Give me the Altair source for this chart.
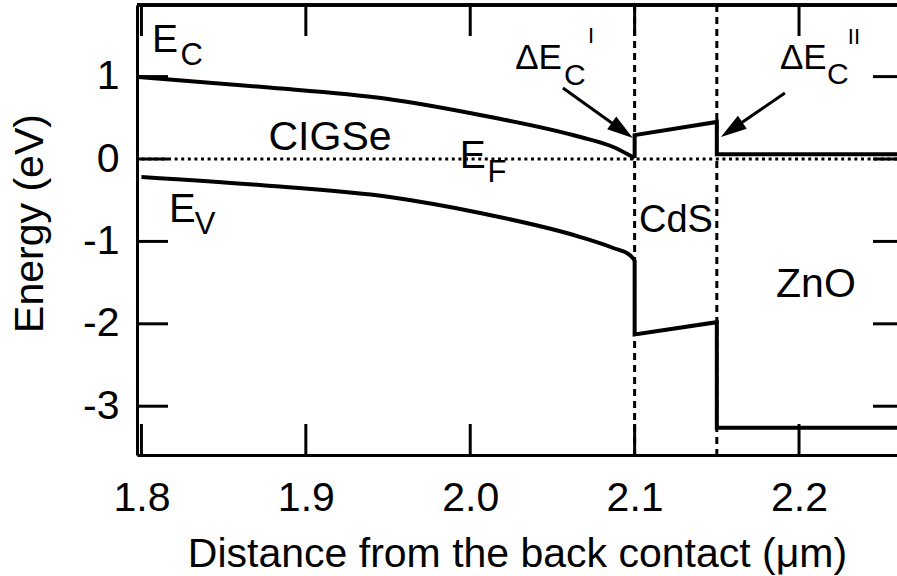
import altair as alt
import pandas as pd

FONT = "Liberation Sans"

# Band edges (eV) versus distance from the back contact (um)
ec_x = [1.798, 1.874, 1.948, 2.006, 2.067, 2.087, 2.1, 2.1, 2.15, 2.15, 2.26]
ec_y = [0.995, 0.874, 0.734, 0.534, 0.267, 0.146, 0.012, 0.29, 0.45, 0.057, 0.057]
ec_bent = 7  # first points lie in the band-bending region of CIGSe

ev_x = [1.8, 1.872, 1.951, 2.006, 2.067, 2.087, 2.097, 2.1, 2.1, 2.15, 2.15, 2.26]
ev_y = [-0.218, -0.316, -0.461, -0.655, -0.947, -1.08, -1.165, -1.226, -2.13, -1.98, -3.26, -3.26]
ev_bent = 8

fermi_level = [0.0]
interfaces = [2.1, 2.15]  # CIGSe/CdS and CdS/ZnO

x_ticks = [1.8, 1.9, 2.0, 2.1, 2.2]
y_ticks = [1, 0, -1, -2, -3]

# Symbols with sub/superscripts (left-aligned): text, x, y (baseline), font size
sym_text = ["E", "C", "E", "F", "E", "V", "C", "I", "C", "II"]
sym_x = [1.8064, 1.8237, 1.9937, 2.0105, 1.8167, 1.8325,
         2.0570, 2.0716, 2.2170, 2.2297]
sym_y = [1.2985, 1.141, -0.109, -0.279, -0.765, -0.910,
         0.898, 1.408, 0.910, 1.396]
sym_size = [39, 31, 39, 31, 40, 31, 30, 22, 30, 22]

# Band-offset symbols (right-aligned up to the subscript)
delta_text = ["\u0394E", "\u0394E"]
delta_x = [2.0558, 2.2168]
delta_y = [1.092, 1.092]
delta_size = [35, 35]

# Layer names (centred)
layer_text = ["CIGSe", "CdS", "ZnO"]
layer_x = [1.9147, 2.1251, 2.2103]
layer_y = [0.109, -0.886, -1.675]
layer_size = [41, 38, 41]

# Band-offset arrows: tail -> arrowhead centre, head rotation (deg)
arr_x = [2.0564, 2.1914]
arr_y = [0.862, 0.801]
arr_x2 = [2.0925, 2.1590]
arr_y2 = [0.347, 0.357]
arr_angle = [125.5, 235.5]

W, H = 760, 450
xs = alt.Scale(domain=[1.7973, 2.2596], nice=False, zero=False)
ys = alt.Scale(domain=[-3.592, 1.869], nice=False, zero=False)

def segment(name, xv, yv, lo, hi):
    return pd.DataFrame({"band": name, "x": xv[lo:hi], "y": yv[lo:hi],
                         "i": range(hi - lo)})

curved = pd.concat([segment("Ec", ec_x, ec_y, 0, ec_bent),
                    segment("Ev", ev_x, ev_y, 0, ev_bent)])
stepped = pd.concat([segment("Ec", ec_x, ec_y, ec_bent - 1, len(ec_x)),
                     segment("Ev", ev_x, ev_y, ev_bent - 1, len(ev_x))])
symbols = pd.DataFrame({"t": sym_text, "x": sym_x, "y": sym_y, "s": sym_size})
deltas = pd.DataFrame({"t": delta_text, "x": delta_x, "y": delta_y, "s": delta_size})
layers = pd.DataFrame({"t": layer_text, "x": layer_x, "y": layer_y, "s": layer_size})
arrows = pd.DataFrame({"x": arr_x, "y": arr_y, "x2": arr_x2, "y2": arr_y2,
                       "ang": arr_angle})
xt = pd.DataFrame({"x": x_ticks})
yt = pd.DataFrame({"y": y_ticks})

x_axis = alt.Axis(values=x_ticks, format=".1f", ticks=False, tickSize=0, grid=False,
                  domainColor="black", domainWidth=3, labelFontSize=41,
                  labelPadding=23, labelColor="black", labelFont=FONT,
                  title="Distance from the back contact (\u03bcm)",
                  titleFont=FONT, titleFontSize=41, titleFontWeight="normal",
                  titleColor="black", titleBaseline="alphabetic",
                  titleX=380, titleY=111, titleAlign="center", titleAnchor="middle")
y_axis = alt.Axis(values=y_ticks, labelExpr="'' + datum.value", ticks=False, tickSize=0,
                  grid=False, domainColor="black", domainWidth=3, labelFontSize=41,
                  labelPadding=18, labelColor="black", labelFont=FONT,
                  title="Energy (eV)", titleFont=FONT, titleFontSize=41,
                  titleFontWeight="normal", titleColor="black",
                  titleBaseline="alphabetic", titleAngle=270,
                  titleX=-95, titleY=218, titleAlign="center", titleAnchor="middle")

X = alt.X("x:Q", scale=xs, axis=x_axis)
Y = alt.Y("y:Q", scale=ys, axis=y_axis)

bend_lines = alt.Chart(curved).mark_line(
    color="black", strokeWidth=4, interpolate="monotone", clip=True
).encode(x=X, y=Y, detail="band:N", order="i:Q")
step_lines = alt.Chart(stepped).mark_line(
    color="black", strokeWidth=4, strokeJoin="miter", clip=True
).encode(x=X, y=Y, detail="band:N", order="i:Q")

ef = alt.Chart(pd.DataFrame({"y": fermi_level})).mark_rule(
    color="black", strokeWidth=3, strokeDash=[3, 3.6]
).encode(y=Y)

walls = alt.Chart(pd.DataFrame({"x": interfaces})).mark_rule(
    color="black", strokeWidth=3, strokeDash=[7, 5]
).encode(x=X)

tick_style = dict(color="black", strokeWidth=3)
bottom_ticks = alt.Chart(xt).mark_rule(**tick_style).encode(
    x=X, y=alt.value(H), y2=alt.value(H - 31))
top_ticks = alt.Chart(xt).mark_rule(**tick_style).encode(
    x=X, y=alt.value(0), y2=alt.value(31))
left_ticks = alt.Chart(yt).mark_rule(**tick_style).encode(
    y=Y, x=alt.value(0), x2=alt.value(31))
right_ticks = alt.Chart(yt).mark_rule(**tick_style).encode(
    y=Y, x=alt.value(W - 24), x2=alt.value(W))
top_frame = alt.Chart(xt).mark_rule(**tick_style).encode(
    x=alt.value(0), x2=alt.value(W), y=alt.value(0))

def text_layer(df, align):
    return alt.Chart(df).mark_text(
        font=FONT, color="black", baseline="alphabetic", align=align
    ).encode(x=X, y=Y, text="t:N", size=alt.Size("s:Q", scale=None, legend=None))

sym_marks = text_layer(symbols, "left")
delta_marks = text_layer(deltas, "right")
layer_marks = text_layer(layers, "center")

shafts = alt.Chart(arrows).mark_rule(color="black", strokeWidth=3).encode(
    x=X, y=Y, x2="x2:Q", y2="y2:Q")
heads = alt.Chart(arrows).mark_point(
    shape="M0,-1L0.6,1L-0.6,1Z", filled=True, color="black", opacity=1, size=676
).encode(
    x=alt.X("x2:Q", scale=xs, axis=x_axis), y=alt.Y("y2:Q", scale=ys, axis=y_axis),
    angle=alt.Angle("ang:Q", scale=None),
)

chart = alt.layer(
    walls, ef, bottom_ticks, top_ticks, left_ticks, right_ticks, top_frame,
    bend_lines, step_lines, sym_marks, delta_marks, layer_marks, shafts, heads,
).properties(
    width=W, height=H,
    autosize=alt.AutoSizeParams(type="none"),
    padding={"left": 137, "top": 5, "right": 0, "bottom": 121},
).configure_view(stroke=None).configure(background="white")

chart.save("out.html", embed_options={"renderer": "svg", "actions": False})
